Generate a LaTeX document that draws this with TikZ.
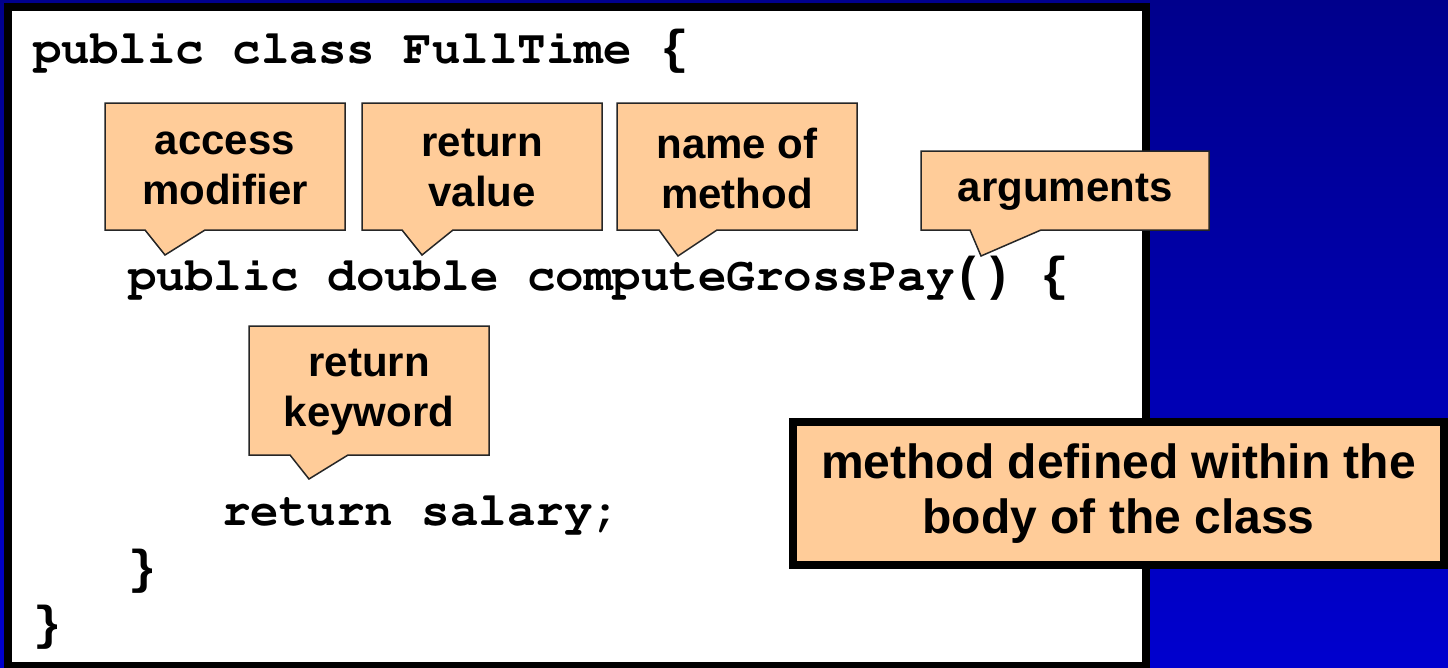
\documentclass[tikz,border=0pt]{standalone}
\usepackage[T1]{fontenc}
\usepackage{fontspec}
\setmainfont{Liberation Sans}
\newfontfamily\monofam{Liberation Mono}
\usetikzlibrary{calc}
\pgfdeclarelayer{bg}
\pgfsetlayers{bg,main}
\definecolor{peach}{HTML}{FFCC99}
\definecolor{navytop}{RGB}{0,0,140}
\definecolor{navybot}{RGB}{0,0,206}
% bold Courier for the source listing; brackets taken from a mono face with taller glyphs
\newcommand\courbold{\fontencoding{T1}\fontfamily{pcr}\fontseries{b}\fontshape{n}\selectfont}
\newcommand\lb{{\monofam\bfseries\{}}
\newcommand\rb{{\monofam\bfseries\}}}
\newcommand\parens{{\monofam\bfseries()}}
\tikzset{
  code/.style={anchor=base west, inner sep=0pt, font=\courbold\fontsize{47.5}{57}\selectfont},
  tagtext/.style={inner sep=0pt, align=center, font=\bfseries\fontsize{42}{50}\selectfont},
  tagline/.style={fill=peach, draw=black!85, line width=1.5pt, line join=miter},
  note/.style={fill=peach, draw=black, line width=8pt, inner sep=0pt, align=center,
    font=\bfseries\fontsize{48}{55}\selectfont},
  panel/.style={fill=white, draw=black, line width=8pt}
}
% callout: name, left, top, right, bottom, text, base x1, tip, base x2
\newcommand\tagbox[9]{%
  \node[tagtext, minimum width={#4-#2}, minimum height={#5-#3}] (#1) at ({(#2+#4)/2},{(#3+#5)/2+2}) {#6};
  \coordinate (#1-tip) at #8;
  \begin{pgfonlayer}{bg}
    \draw[tagline] (#2,#3) -- (#4,#3) -- (#4,#5)
      -- (#9,#5) -- (#1-tip) -- (#7,#5) -- (#2,#5) -- cycle;
  \end{pgfonlayer}
}
\begin{document}
\begin{tikzpicture}[x=1pt,y=-1pt]
\useasboundingbox (0,0) rectangle (1448,667);
\begin{pgfonlayer}{bg}
  \shade[top color=navytop, bottom color=navybot] (0,0) rectangle (1448,667);
  \draw[panel] (8,7) rectangle (1145.5,666);
\end{pgfonlayer}

% source code
\node[code] (l1) at (33,63)  {public class FullTime \lb};
\node[code] (l2) at (128,290) {public double computeGrossPay\parens{} \lb};
\node[code] (l3) at (222,525) {return salary;};
\node[code] (l4) at (128,583) {\rb};
\node[code] (l5) at (33,639)  {\rb};

% annotations
\tagbox{acc}{105}{103}{345}{230}{access\\modifier}{145}{(165,255)}{205}
\tagbox{ret}{362}{103}{602}{230}{return\\value}{402}{(422,255)}{453}
\tagbox{nam}{617}{103}{857}{230}{name of\\method}{659}{(678,256)}{717}
\tagbox{arg}{921}{151}{1209}{230}{arguments}{970}{(981,256)}{1041}
\tagbox{key}{249}{326}{489}{455}{return\\keyword}{290}{(309,479)}{348}

\node[note, minimum width=651, minimum height=143] (body) at (1118.5,493.5)
  {method defined within the\\body of the class};
\end{tikzpicture}
\end{document}
